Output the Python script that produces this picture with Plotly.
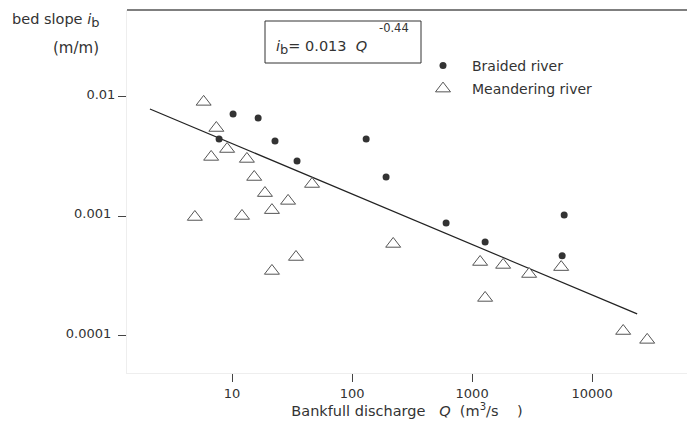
import plotly.graph_objects as go

# ---- data ----
braided_Q = [10.2, 7.8, 16.5, 22.8, 34.8, 131, 192, 607, 1283, 5845, 5623]
braided_i = [0.0072, 0.00446, 0.00667, 0.00428, 0.00291, 0.00446, 0.00214,
             0.000883, 0.000612, 0.00103, 0.000468]

meander_Q = [5.8, 7.4, 9.1, 6.7, 13.3, 15.3, 18.8, 29.3, 21.5, 46.4, 4.9, 12.1,
             34.1, 21.5, 220, 1166, 1813, 2985, 5519, 1283, 18130, 28730]
meander_i = [0.0091, 0.0055, 0.00367, 0.00315, 0.00303, 0.00214, 0.00157,
             0.00135, 0.00113, 0.00187, 0.00099, 0.00101, 0.000458, 0.00035,
             0.000589, 0.000416, 0.000393, 0.00033, 0.000377, 0.000208,
             0.00011, 0.0000927]

fit_Q = [2.07, 23700]
fit_i = [0.00794, 0.000153]

x_tickvals = [10, 100, 1000, 10000]
x_ticktext = ["10", "100", "1000", "10000"]
y_tickvals = [0.0001, 0.001, 0.01]
y_ticktext = ["0.0001\u00a0", "0.001\u00a0", "0.01"]

FONT = "DejaVu Sans"
TXT = "#333333"

fig = go.Figure()

fig.add_trace(go.Scatter(
    x=fit_Q, y=fit_i, mode="lines",
    line=dict(color="#222222", width=1.2),
    showlegend=False, hoverinfo="skip"))

fig.add_trace(go.Scatter(
    x=braided_Q, y=braided_i, mode="markers", name="Braided river",
    marker=dict(symbol="circle", size=7, color="#333333",
                line=dict(width=0)),
    legend="legend"))

fig.add_trace(go.Scatter(
    x=meander_Q, y=meander_i, mode="markers", name="Meandering river",
    marker=dict(symbol="triangle-up", size=13, color="white",
                line=dict(color="#555555", width=1)),
    legend="legend2"))

L, T, R, B = 127, 10, 0, 50
W, H = 687, 423
pw, ph = W - L - R, H - T - B

def px(xp):
    return (xp - L) / pw

def py(yp):
    return (H - B - yp) / ph

NB = "\u00a0"

fig.update_layout(
    width=W, height=H,
    margin=dict(l=L, r=R, t=T, b=B),
    paper_bgcolor="white", plot_bgcolor="white",
    font=dict(family=FONT, size=13, color=TXT),
    legend=dict(x=px(414), y=py(66), xanchor="left", yanchor="middle",
                itemwidth=48, font=dict(size=14, color=TXT),
                bgcolor="rgba(0,0,0,0)", borderwidth=0),
    legend2=dict(x=px(414), y=py(89), xanchor="left", yanchor="middle",
                 itemwidth=48, font=dict(size=14, color=TXT),
                 bgcolor="rgba(0,0,0,0)", borderwidth=0),
    xaxis=dict(
        type="log", range=[0.125, 4.79],
        tickvals=x_tickvals, ticktext=x_ticktext,
        ticks="outside", ticklen=8, tickwidth=1, tickcolor="#444444",
        showgrid=False, zeroline=False,
        showline=True, linecolor="#eeeeee", linewidth=1,
        tickfont=dict(size=13, color=TXT),
        title=dict(text="Bankfull discharge" + NB * 3 + "<i>Q</i>" + NB * 2
                   + "(m<sup>3</sup>/s" + NB * 4 + ")",
                   font=dict(size=14.5, color=TXT), standoff=4),
    ),
    yaxis=dict(
        type="log", range=[-4.31, -1.272],
        tickvals=y_tickvals, ticktext=y_ticktext,
        ticks="outside", ticklen=8, tickwidth=1, tickcolor="#444444",
        ticklabelshift=-3,
        showgrid=False, zeroline=False,
        showline=True, linecolor="#eeeeee", linewidth=1,
        tickfont=dict(size=13, color=TXT),
    ),
    shapes=[
        dict(type="line", xref="paper", yref="paper", x0=0, x1=1, y0=1, y1=1,
             line=dict(color="black", width=1.2)),
        dict(type="rect", xref="paper", yref="paper",
             x0=px(265), x1=px(421), y0=py(63), y1=py(21),
             line=dict(color="#333333", width=1), fillcolor="rgba(0,0,0,0)"),
    ],
    annotations=[
        dict(xref="paper", yref="paper", x=px(274), y=py(47),
             xanchor="left", yanchor="middle", showarrow=False,
             text="<i>i</i><sub><span style='font-size:13px'>b</span></sub>="
                  + NB + "0.013" + NB * 2 + "<i>Q</i>",
             font=dict(size=14.5, color=TXT)),
        dict(xref="paper", yref="paper", x=px(377), y=py(28),
             xanchor="left", yanchor="middle", showarrow=False,
             text="-0.44", font=dict(size=11.5, color=TXT)),
        dict(xref="paper", yref="paper", x=px(101), y=py(21),
             xanchor="right", yanchor="middle", showarrow=False,
             text="bed slope <i>i</i><sub><span style='font-size:13px'>b</span></sub>",
             font=dict(size=14.5, color=TXT)),
        dict(xref="paper", yref="paper", x=px(101), y=py(48),
             xanchor="right", yanchor="middle", showarrow=False,
             text="(m/m)", font=dict(size=15, color=TXT)),
    ],
)

fig.write_html("out.html",
               config={"displayModeBar": False},
               post_script="document.body.style.margin='0';document.body.style.overflow='hidden';")
